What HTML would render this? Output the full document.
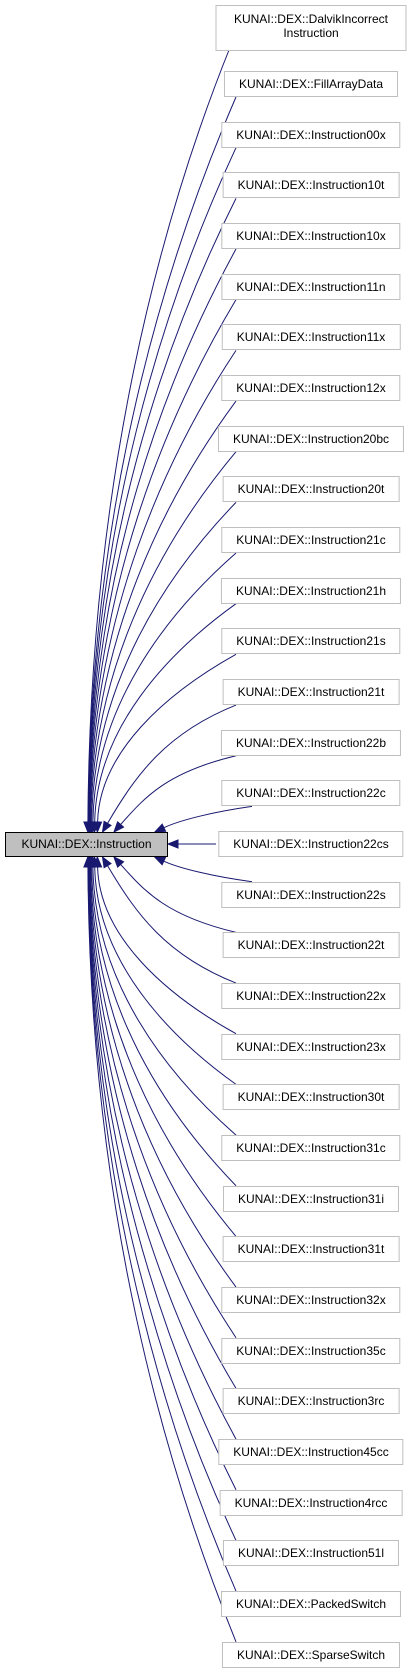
<!DOCTYPE html>
<html><head><meta charset="utf-8"><style>
html,body{margin:0;padding:0;background:#fff;}
body{width:412px;height:1674px;position:relative;overflow:hidden;font-family:"Liberation Sans",Arial,sans-serif;font-size:12px;color:#000;}
.n{position:absolute;left:311px;transform:translateX(-50%);height:24px;line-height:24px;padding:0 14px;border:1px solid #bfbfbf;background:#fff;white-space:nowrap;text-align:center;box-sizing:content-box;}
.m{position:absolute;left:5px;top:832px;width:161px;height:23px;line-height:23px;border:1px solid #000;background:#bfbfbf;text-align:center;}
svg{position:absolute;left:0;top:0;}
</style></head><body>
<svg id="s" width="412" height="1674"></svg>
<div class="n" style="top:5px;height:38px;line-height:14px;padding:6px 14px 0;width:161px;">KUNAI::DEX::DalvikIncorrect<br>Instruction</div>
<div id="nodes"></div>
<div class="m">KUNAI::DEX::Instruction</div>
<script>
var names=["FillArrayData","Instruction00x","Instruction10t","Instruction10x","Instruction11n","Instruction11x","Instruction12x","Instruction20bc","Instruction20t","Instruction21c","Instruction21h","Instruction21s","Instruction21t","Instruction22b","Instruction22c","Instruction22cs","Instruction22s","Instruction22t","Instruction22x","Instruction23x","Instruction30t","Instruction31c","Instruction31i","Instruction31t","Instruction32x","Instruction35c","Instruction3rc","Instruction45cc","Instruction4rcc","Instruction51l","PackedSwitch","SparseSwitch"];
var h="",p="";
var nodes=[{cy:25,top:5,bot:45,left:217}];
names.forEach(function(n,i){var cy=84+i*50.67;h+='<div class="n" style="top:'+(cy-13).toFixed(1)+'px">KUNAI::DEX::'+n+'</div>';nodes.push({cy:cy,top:cy-13,bot:cy+13,left:222});});
document.getElementById("nodes").innerHTML=h;
var C="#191970";
nodes.forEach(function(o){
 var dy=o.cy-844,ad=Math.abs(dy);
 var sx,sy,tx,ty,c1x,c1y,c2x,c2y;
 if(ad<5){sx=o.left-6;sy=844;tx=168;ty=844;c1x=sx-20;c1y=sy;c2x=tx+20;c2y=ty;}
 else{
  var up=dy<0;
  sx=o.left+(ad<60?30:14);sy=up?o.bot:o.top;
  tx=86+70*Math.pow(50/ad,1.3);ty=up?832:857;
  c1x=sx-(ad<60?40:70);c1y=sy+(ty-sy)*0.22;
  c2x=tx+(ad<160?(sx-tx)*0.25:2);c2y=ty-(ty-sy)*0.45;
 }
 var dx=tx-c2x,dyy=ty-c2y,L=Math.sqrt(dx*dx+dyy*dyy),ux=dx/L,uy=dyy/L;
 var ex=tx-ux*10,ey=ty-uy*10;
 p+='<path d="M'+sx+','+sy+' C'+c1x+','+c1y+' '+c2x+','+c2y+' '+ex+','+ey+'" fill="none" stroke="'+C+'" stroke-width="1"/>';
 p+='<polygon points="'+tx+','+ty+' '+(ex-uy*4)+','+(ey+ux*4)+' '+(ex+uy*4)+','+(ey-ux*4)+'" fill="'+C+'" stroke="'+C+'"/>';
});
document.getElementById("s").innerHTML=p;
</script>
</body></html>
